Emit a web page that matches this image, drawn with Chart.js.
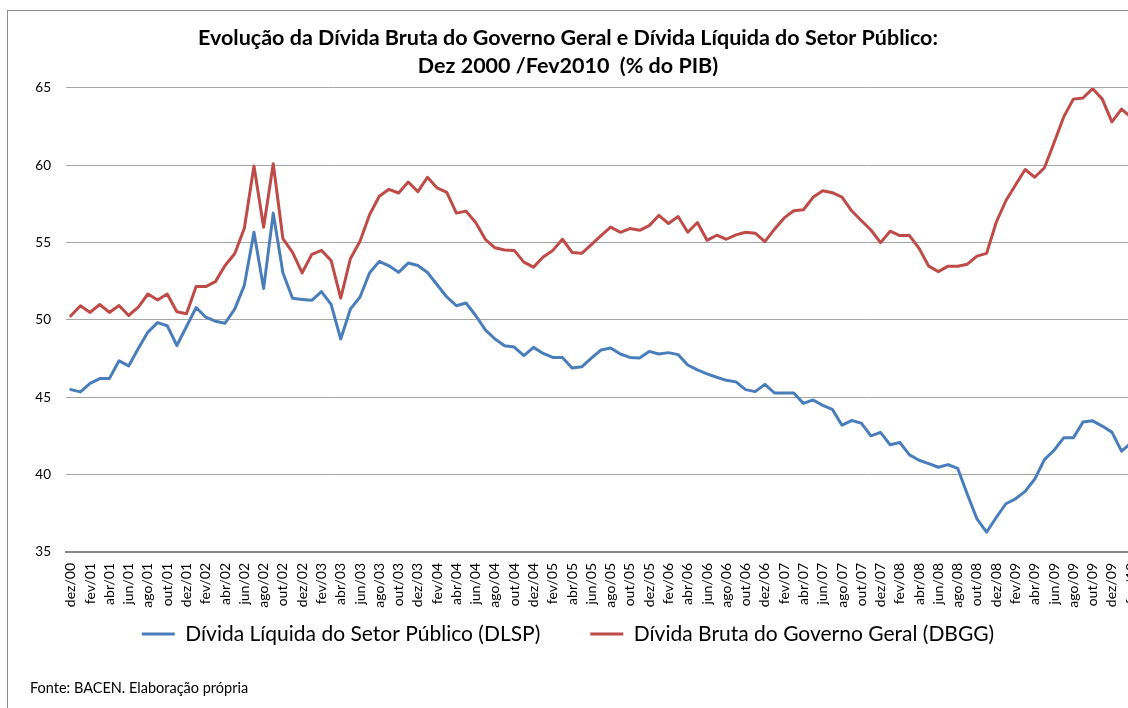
<!DOCTYPE html>
<html lang="pt-BR">
<head>
<meta charset="utf-8">
<title>Dívida Bruta e Dívida Líquida</title>
<script src="https://cdn.jsdelivr.net/npm/chart.js@4.4.1/dist/chart.umd.min.js"></script>
<style>
  html, body { margin: 0; padding: 0; background: #fff; overflow: hidden; width: 1128px; height: 708px; }
  #frame { position: absolute; left: 7px; top: 10px; width: 1200px; height: 800px; border: 1px solid #8c8c8c; }
  #debtChart { position: absolute; left: 0; top: 0; }
  #fonte { position: absolute; left: 30px; top: 679px; font: 14.5px Lato, sans-serif; color: #000; }
</style>
</head>
<body>
<div id="frame"></div>
<canvas id="debtChart" width="1136" height="708"></canvas>
<div id="fonte">Fonte: BACEN. Elaboração própria</div>
<script>
// meses dez/00 .. fev/10
const monthNames = ['jan', 'fev', 'mar', 'abr', 'mai', 'jun', 'jul', 'ago', 'set', 'out', 'nov', 'dez'];
const labels = [];
for (let i = 0; i < 111; i++) {
    const m = (11 + i) % 12;
    const y = 2000 + Math.floor((11 + i) / 12);
    labels.push(monthNames[m] + '/' + String(y).slice(2));
}

const yTicks = [35, 40, 45, 50, 55, 60, 65];

// Dívida Líquida do Setor Público (% do PIB)
const dlsp = [
    45.5, 45.35, 45.9, 46.21, 46.21, 47.36, 47.03, 48.16, 49.22, 49.83, 49.63, 48.35,
    49.58, 50.81, 50.18, 49.92, 49.79, 50.7, 52.24, 55.67, 52.03, 56.91, 53.05, 51.4,
    51.33, 51.27, 51.83, 51.01, 48.77, 50.7, 51.49, 53.05, 53.79, 53.5, 53.08, 53.68,
    53.52, 53.07, 52.28, 51.49, 50.92, 51.1, 50.29, 49.36, 48.77, 48.34, 48.25, 47.69,
    48.23, 47.84, 47.58, 47.58, 46.89, 46.97, 47.54, 48.06, 48.19, 47.8, 47.58, 47.54,
    47.97, 47.8, 47.89, 47.76, 47.09, 46.77, 46.52, 46.3, 46.1, 46.0, 45.5, 45.37,
    45.84, 45.28, 45.28, 45.28, 44.61, 44.83, 44.48, 44.22, 43.2, 43.5, 43.33, 42.51,
    42.73, 41.93, 42.08, 41.28, 40.93, 40.71, 40.48, 40.65, 40.41, 38.74, 37.14, 36.28,
    37.23, 38.12, 38.44, 38.92, 39.72, 40.97, 41.58, 42.38, 42.38, 43.4, 43.48, 43.14,
    42.75, 41.52, 42.06
];

// Dívida Bruta do Governo Geral (% do PIB)
const dbgg = [
    50.27, 50.92, 50.49, 51.0, 50.49, 50.94, 50.29, 50.83, 51.68, 51.29, 51.68, 50.53,
    50.4, 52.16, 52.16, 52.48, 53.52, 54.28, 55.93, 59.95, 56.0, 60.1, 55.26, 54.37,
    53.05, 54.24, 54.5, 53.85, 51.42, 53.96, 55.09, 56.82, 58.0, 58.45, 58.21, 58.92,
    58.3, 59.23, 58.54, 58.25, 56.91, 57.04, 56.3, 55.22, 54.67, 54.52, 54.5, 53.74,
    53.42, 54.07, 54.5, 55.22, 54.37, 54.31, 54.87, 55.46, 56.0, 55.67, 55.91, 55.8,
    56.1, 56.76, 56.24, 56.69, 55.67, 56.3, 55.15, 55.48, 55.22, 55.5, 55.67, 55.61,
    55.07, 55.87, 56.6, 57.06, 57.13, 57.93, 58.36, 58.23, 57.95, 57.06, 56.43, 55.82,
    55.0, 55.74, 55.46, 55.46, 54.63, 53.48, 53.13, 53.48, 53.48, 53.61, 54.13, 54.31,
    56.32, 57.71, 58.73, 59.73, 59.23, 59.84, 61.46, 63.13, 64.28, 64.35, 64.96, 64.28,
    62.81, 63.63, 63.1
];

const titleLines = [
    'Evolução da Dívida Bruta do Governo Geral e Dívida Líquida do Setor Público:',
    'Dez 2000 /Fev2010  (% do PIB)'
];

const blue = '#4a7ebb';
const red = '#be4b48';

// the x labels need their full height (they are clipped to the axis box),
// so the legend is lifted up into the empty space afterwards
const legendLift = 38.5;
const legendNudge = {
    id: 'legendNudge',
    afterLayout(chart) {
        chart.legend.top -= legendLift;
        chart.legend.bottom -= legendLift;
    }
};

const ctx = document.getElementById('debtChart').getContext('2d');

const debtChart = new Chart(ctx, {
    type: 'line',
    data: {
        labels: labels,
        datasets: [{
            label: 'Dívida Líquida do Setor Público (DLSP)',
            data: dlsp,
            borderColor: blue,
            backgroundColor: blue,
            borderWidth: 3,
            pointRadius: 0,
            tension: 0,
            borderJoinStyle: 'round',
            borderCapStyle: 'round'
        }, {
            label: 'Dívida Bruta do Governo Geral (DBGG)',
            data: dbgg,
            borderColor: red,
            backgroundColor: red,
            borderWidth: 3,
            pointRadius: 0,
            tension: 0,
            borderJoinStyle: 'round',
            borderCapStyle: 'round'
        }]
    },
    options: {
        responsive: false,
        animation: false,
        layout: { padding: { top: 0, left: 0, right: 0, bottom: 15 } },
        plugins: {
            title: {
                display: true,
                text: titleLines,
                color: '#000',
                font: { family: 'Lato', size: 21.5, weight: 'bold', lineHeight: 1.302 },
                padding: { top: 24, bottom: 8 }
            },
            legend: {
                position: 'bottom',
                labels: {
                    boxWidth: 33,
                    boxHeight: 3,
                    padding: 50,
                    color: '#000',
                    font: { family: 'Lato', size: 21 },
                    generateLabels: function (chart) {
                        return Chart.defaults.plugins.legend.labels.generateLabels(chart)
                            .map(l => Object.assign(l, { lineWidth: 0 }));
                    }
                }
            },
            tooltip: { enabled: false }
        },
        scales: {
            x: {
                offset: true,
                grid: { display: false, drawTicks: false },
                border: { display: true, color: '#868686', width: 2 },
                ticks: {
                    autoSkip: false,
                    minRotation: 90,
                    maxRotation: 90,
                    padding: 11,
                    color: '#000',
                    font: { family: 'Lato', size: 14 },
                    callback: (v, i) => (i % 2 === 0 ? labels[i] : '')
                },
                afterFit: function (scale) {
                    scale.height = 60;
                    scale.paddingLeft = 0;
                    scale.paddingRight = 0;
                }
            },
            y: {
                min: yTicks[0],
                max: yTicks[yTicks.length - 1],
                afterBuildTicks: function (scale) {
                    scale.ticks = yTicks.map(v => ({ value: v }));
                },
                grid: { color: '#a6a6a6', lineWidth: 1, drawTicks: false },
                border: { display: false },
                ticks: {
                    padding: 15,
                    color: '#000',
                    font: { family: 'Lato', size: 13.5 }
                },
                afterFit: function (scale) {
                    scale.width = 66;
                }
            }
        }
    },
    plugins: [legendNudge]
});
</script>
</body>
</html>
